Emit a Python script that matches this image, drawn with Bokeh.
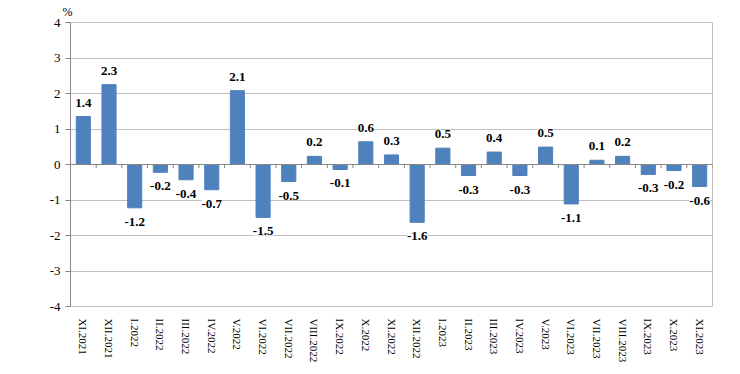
from bokeh.plotting import figure
from bokeh.models import ColumnDataSource, LabelSet, FixedTicker, Range1d, Span
from bokeh.core.properties import value
from bokeh.embed import file_html
from bokeh.resources import INLINE

categories = ["XI.2021", "XII.2021", "I.2022", "II.2022", "III.2022", "IV.2022", "V.2022",
              "VI.2022", "VII.2022", "VIII.2022", "IX.2022", "X.2022", "XI.2022", "XII.2022",
              "I.2023", "II.2023", "III.2023", "IV.2023", "V.2023", "VI.2023", "VII.2023",
              "VIII.2023", "IX.2023", "X.2023", "XI.2023"]
values = [1.35, 2.25, -1.22, -0.22, -0.43, -0.71, 2.08, -1.49, -0.48, 0.23, -0.14, 0.64, 0.27,
          -1.63, 0.46, -0.31, 0.35, -0.31, 0.49, -1.11, 0.12, 0.23, -0.28, -0.17, -0.62]
labels = ["1.4", "2.3", "-1.2", "-0.2", "-0.4", "-0.7", "2.1", "-1.5", "-0.5", "0.2", "-0.1",
          "0.6", "0.3", "-1.6", "0.5", "-0.3", "0.4", "-0.3", "0.5", "-1.1", "0.1", "0.2",
          "-0.3", "-0.2", "-0.6"]
y_ticks = [-4, -3, -2, -1, 0, 1, 2, 3, 4]
y_tick_labels = ["-4", "-3", "-2", "-1", "0", "1", "2", "3", "4"]
unit_label = "%"

FONT = "'Liberation Serif'"

n = len(categories)
xs = [i + 0.5 for i in range(n)]
offs = [14 if v >= 0 else -14 for v in values]
src = ColumnDataSource(dict(x=xs, v=values, lab=labels, off=offs))

p = figure(width=732, height=366, x_range=Range1d(0, n), y_range=Range1d(-4, 4),
           output_backend="svg", toolbar_location=None,
           min_border_left=70, min_border_right=20, min_border_top=22, min_border_bottom=60)

p.title.text = unit_label
p.title.align = "left"
p.title.vertical_align = "top"
p.title.offset = -8
p.title.standoff = 4
p.title.text_font = FONT
p.title.text_font_size = "12px"
p.title.text_font_style = "normal"
p.title.text_color = "black"

p.vbar(x="x", top="v", width=0.55, color="#4F81BD", source=src)

# zero axis line with ticks between categories
p.add_layout(Span(location=0, dimension="width", line_color="#868686", line_width=1))
bounds = list(range(1, n + 1))
p.segment(x0=bounds, y0=[0] * n, x1=bounds, y1=[-0.1] * n, line_color="#868686", line_width=1)

labs = LabelSet(x="x", y="v", text="lab", y_offset="off", source=src,
                text_align="center", text_baseline="middle",
                text_font=value(FONT), text_font_style="bold",
                text_font_size="13px", text_color="black",
                background_fill_color="white")
p.add_layout(labs)

p.xgrid.visible = False
p.ygrid.grid_line_color = "#BFBFBF"
p.ygrid.ticker = FixedTicker(ticks=y_ticks)
p.outline_line_color = "#BFBFBF"

p.yaxis.ticker = FixedTicker(ticks=y_ticks)
p.yaxis.major_label_overrides = {t: s for t, s in zip(y_ticks, y_tick_labels)}
p.yaxis.axis_line_color = "#868686"
p.yaxis.major_tick_line_color = "#868686"
p.yaxis.major_tick_out = 5
p.yaxis.major_tick_in = 0
p.yaxis.minor_tick_line_color = None
p.yaxis.major_label_standoff = 5
p.yaxis.major_label_text_font = FONT
p.yaxis.major_label_text_font_size = "13px"
p.yaxis.major_label_text_color = "black"

p.xaxis.ticker = FixedTicker(ticks=xs)
p.xaxis.major_label_overrides = {x: c for x, c in zip(xs, categories)}
p.xaxis.axis_line_color = None
p.xaxis.major_tick_line_color = None
p.xaxis.minor_tick_line_color = None
p.xaxis.major_label_orientation = "vertical"
p.xaxis.major_label_standoff = 6
p.xaxis.major_label_text_font = FONT
p.xaxis.major_label_text_font_size = "11px"
p.xaxis.major_label_text_color = "black"

open("out.html", "w").write(file_html(p, INLINE))
